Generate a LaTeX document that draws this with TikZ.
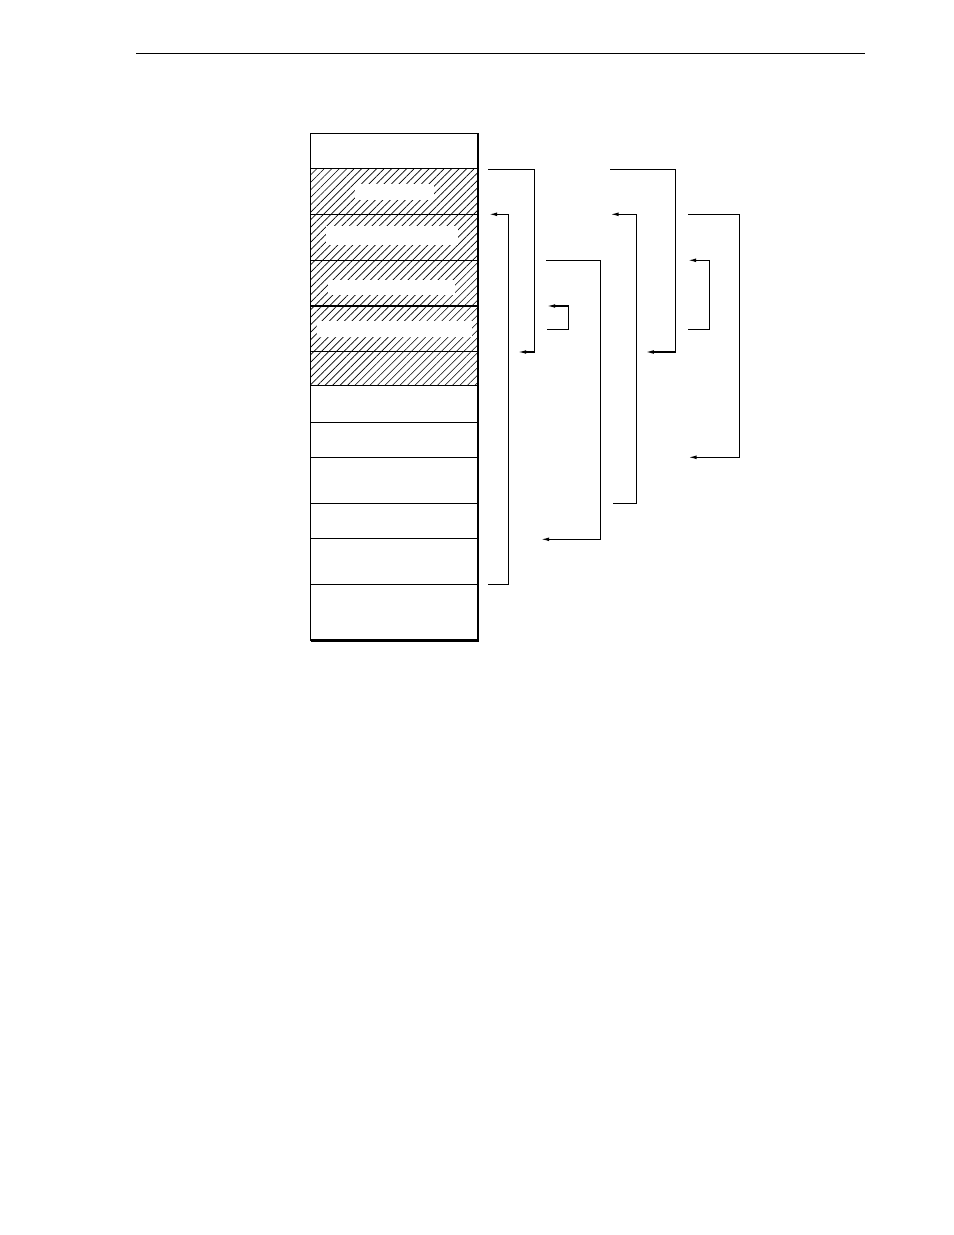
\documentclass[tikz,border=0pt]{standalone}
\usetikzlibrary{patterns.meta,arrows.meta}
\begin{document}
\begin{tikzpicture}[x=0.64151pt,y=-0.64151pt,
  conn/.style={line width=0.7pt},
  arr/.style={conn,-{Latex[length=5pt,width=2.4pt]}},
  rowline/.style={line width=0.8pt},
  edgeline/.style={line width=1.5pt},
  hatch/.style={pattern={Lines[angle=45,distance=3.4pt,line width=0.4pt]}},
  gapbox/.style={fill=white,draw=none}]
\useasboundingbox (0,0) rectangle (954,1235);
% header rule
\coordinate (hl) at (136,53.3);
\coordinate (hr) at (865,53.3);
\draw[rowline] (hl) -- (hr);
% box corners
\coordinate (tl) at (310.7,133.3);
\coordinate (br) at (477.7,640.3);
\coordinate (hatchtop) at (310.7,168.3);
\coordinate (hatchbot) at (477.7,385.5);
% hatched region
\fill[hatch] (hatchtop) rectangle (hatchbot);
% blank label areas inside hatch
\fill[gapbox] (355,184) rectangle (434,200);
\fill[gapbox] (326,226) rectangle (458,245);
\fill[gapbox] (328,280) rectangle (455,295);
\fill[gapbox] (317,321) rectangle (472,337);
% rows
\foreach \yy in {168.3,214.3,260.3,306,351.3,385.5,422.3,457.3,503.3,538.3,584.3}
  \draw[rowline] (310.7,\yy) -- (477.7,\yy);
\draw[rowline] (tl) rectangle (br);
\draw[edgeline] (477.9,133.3) -- (477.9,640.6) -- (310.7,640.6);
% connectors
\coordinate (As) at (488,169.3);   \coordinate (Ac) at (534.3,352);   \coordinate (At) at (518.3,352);
\coordinate (Bs) at (488.3,584.3); \coordinate (Bc) at (508.7,214.3); \coordinate (Bt) at (489.3,214.3);
\coordinate (Cs) at (546.3,260.3); \coordinate (Cc) at (600.3,539.3); \coordinate (Ct) at (541.3,539.3);
\coordinate (Ds) at (547.3,329.3); \coordinate (Dc) at (568.7,306);   \coordinate (Dt) at (547.3,306);
\coordinate (Es) at (610,169.3);   \coordinate (Ec) at (675.3,352);   \coordinate (Et) at (646,352);
\coordinate (Fs) at (613,503.3);   \coordinate (Fc) at (636.3,214.3); \coordinate (Ft) at (610.7,214.3);
\coordinate (Gs) at (688,214.3);   \coordinate (Gc) at (739.3,457.3); \coordinate (Gt) at (688.7,457.3);
\coordinate (Hs) at (688,329.3);   \coordinate (Hc) at (709.3,260.3); \coordinate (Ht) at (688.3,260.3);
\foreach \c in {A,B,C,D,E,F,G,H}
  \draw[arr] (\c s) -| (\c c) -- (\c t);
\end{tikzpicture}
\end{document}
